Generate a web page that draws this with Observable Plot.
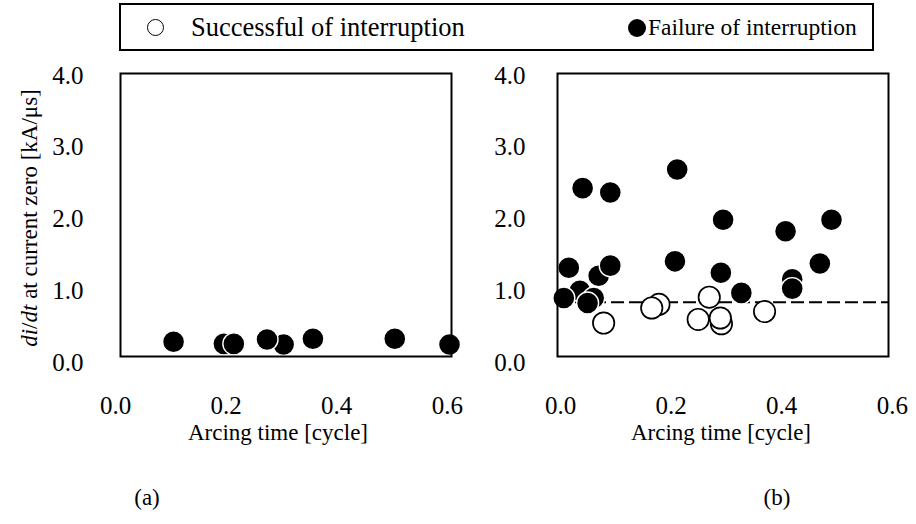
<!DOCTYPE html>
<html>
<head>
<meta charset="utf-8">
<script src="https://cdn.jsdelivr.net/npm/d3@7"></script>
<script src="https://cdn.jsdelivr.net/npm/@observablehq/plot@0.6"></script>
<style>
  html, body { margin: 0; padding: 0; background: #fff; }
  #page { position: relative; width: 916px; height: 524px; overflow: hidden; background: #fff;
          font-family: "Liberation Serif", "DejaVu Serif", serif; color: #000; }
  #page svg { position: absolute; top: 0; overflow: visible; }
  #page svg text { font-family: "Liberation Serif", "DejaVu Serif", serif !important; }
  .legend { position: absolute; left: 119px; top: 3px; width: 751px; height: 44px;
            border: 2px solid #000; box-sizing: content-box; }
  .legend .item { position: absolute; top: 0; height: 44px; line-height: 44px; white-space: nowrap; }
  .legend .mark { position: absolute; width: 17px; height: 17px; border-radius: 50%; top: 14px; box-sizing: border-box; }
  .ytitle { position: absolute; left: 29px; top: 218px; font-size: 23px; white-space: nowrap; line-height: 1;
            transform: translate(-50%, -50%) rotate(-90deg); }
  .panel-tag { position: absolute; top: 497px; font-size: 23px; transform: translate(-50%, -50%); line-height: 1; }
</style>
</head>
<body>
<div id="page">
  <div class="legend">
    <span class="mark" style="left: 26px; border: 1.6px solid #000; background: #fff;"></span>
    <span class="item" style="left: 70px; font-size: 26.5px;">Successful of interruption</span>
    <span class="mark" style="left: 507px; background: #000; width: 18px; height: 18px;"></span>
    <span class="item" style="left: 527px; font-size: 23.5px;">Failure of interruption</span>
  </div>
  <div class="ytitle"><i>di</i>/<i>dt</i> at current zero [kA/μs]</div>
  <div class="panel-tag" style="left: 147px;">(a)</div>
  <div class="panel-tag" style="left: 777px;">(b)</div>
</div>
<script>
// Axis ticks shared by both panels
const timeTicks = [0, 0.2, 0.4, 0.6];
const rateTicks = [0, 1, 2, 3, 4];

// (a) arcing time [cycle] and di/dt [kA/μs], all failures
const aFailTime = [0.105, 0.196, 0.214, 0.304, 0.274, 0.357, 0.505, 0.604];
const aFailRate = [0.29, 0.26, 0.26, 0.25, 0.32, 0.33, 0.33, 0.25];

// (b) failures
const bFailTime = [0.040, 0.090, 0.211, 0.294, 0.407, 0.490, 0.015, 0.069, 0.090, 0.207,
                   0.290, 0.469, 0.327, 0.419, 0.419, 0.035, 0.060, 0.006, 0.049];
const bFailRate = [2.43, 2.37, 2.69, 1.99, 1.83, 1.99, 1.32, 1.21, 1.35, 1.41,
                   1.25, 1.38, 0.97, 1.16, 1.03, 1.00, 0.90, 0.90, 0.83];

// (b) successful interruptions
const bOkTime = [0.078, 0.178, 0.165, 0.249, 0.269, 0.291, 0.289, 0.369];
const bOkRate = [0.55, 0.81, 0.76, 0.60, 0.91, 0.54, 0.62, 0.71];

// (b) di/dt boundary between success and failure
const boundary = [0.84];

const zip = (xs, ys) => xs.map((x, i) => ({time: x, rate: ys[i]}));

function panel({left, width, marginLeft, marginRight, xRange, tickPad, title, titleDx, fail, ok, rule}) {
  const marks = [];
  if (rule) marks.push(Plot.ruleY(rule, {stroke: "#000", strokeWidth: 2, strokeDasharray: "13,5"}));
  if (ok) marks.push(Plot.dot(ok, {x: "time", y: "rate", r: 10.7, fill: "#fff", stroke: "#000", strokeWidth: 1.7}));
  marks.push(Plot.dot(fail, {x: "time", y: "rate", r: 11, fill: "#000", stroke: "#fff", strokeWidth: 1.4}));
  marks.push(
    Plot.frame({stroke: "#000", strokeWidth: 2}),
    Plot.axisY(rateTicks, {tickSize: 0, tickPadding: tickPad, tickFormat: d3.format(".1f"), label: null, fill: "#000", fontSize: 25}),
    Plot.axisX(timeTicks, {tickSize: 0, tickPadding: 39.6, tickFormat: d3.format(".1f"), label: null, fill: "#000", fontSize: 25}),
    Plot.text([title], {frameAnchor: "bottom", dy: 76, dx: titleDx, lineAnchor: "middle", fill: "#000"})
  );
  const svg = Plot.plot({
    width, height: 460,
    marginLeft, marginRight, marginTop: 73, marginBottom: 104,
    x: {domain: [0, 0.6], range: xRange},
    y: {domain: [0, 4], range: [362, 75]},
    style: {fontFamily: "Liberation Serif", fontSize: "23px", color: "#000", background: "transparent", overflow: "visible"},
    marks
  });
  svg.style.left = left + "px";
  return svg;
}

const page = document.getElementById("page");
page.appendChild(panel({
  left: 0, width: 470, marginLeft: 120, marginRight: 19, xRange: [115, 446.8], tickPad: 37,
  title: "Arcing time [cycle]", titleDx: -8, fail: zip(aFailTime, aFailRate)
}));
page.appendChild(panel({
  left: 470, width: 446, marginLeft: 87, marginRight: 28, xRange: [90, 421.8], tickPad: 32,
  title: "Arcing time [cycle]", titleDx: -2,
  fail: zip(bFailTime, bFailRate), ok: zip(bOkTime, bOkRate), rule: boundary
}));
</script>
</body>
</html>
